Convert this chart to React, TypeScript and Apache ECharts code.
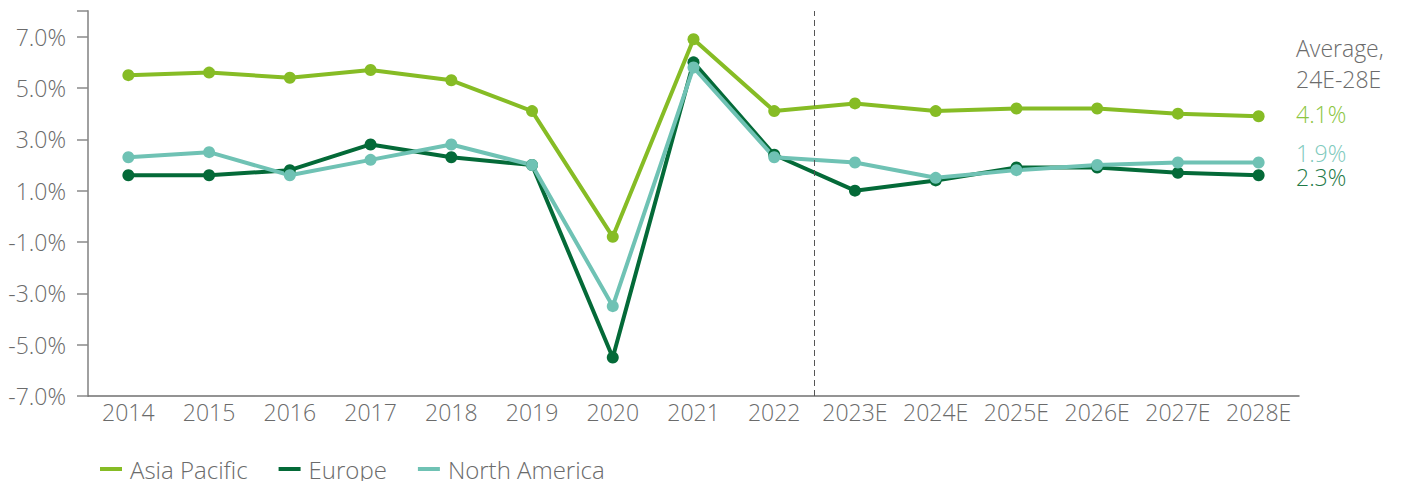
import React, { useEffect, useRef } from "react";
import * as echarts from "echarts";

const categories = ["2014", "2015", "2016", "2017", "2018", "2019", "2020", "2021", "2022", "2023E", "2024E", "2025E", "2026E", "2027E", "2028E"];
const asiaPacific = [5.5, 5.6, 5.4, 5.7, 5.3, 4.1, -0.8, 6.9, 4.1, 4.4, 4.1, 4.2, 4.2, 4.0, 3.9];
const europe = [1.6, 1.6, 1.8, 2.8, 2.3, 2.0, -5.5, 6.0, 2.4, 1.0, 1.4, 1.9, 1.9, 1.7, 1.6];
const northAmerica = [2.3, 2.5, 1.6, 2.2, 2.8, 2.0, -3.5, 5.8, 2.3, 2.1, 1.5, 1.8, 2.0, 2.1, 2.1];
const seriesNames = ["Asia Pacific", "Europe", "North America"];
const colors = ["#86bc25", "#046a38", "#6fc2b4"];
const separatorAt = 8.5; // between 2022 and 2023E
const averageTitle = ["Average,", "24E-28E"];
const averageValues = ["4.1%", "1.9%", "2.3%"];
const averageColors = ["#8cc63f", "#80cabd", "#1f7a48"];

const FONT = "'Open Sans', 'Noto Sans', sans-serif";
const GRAY = "#6b6b6b";
const FS = 23;

export default function App() {
  const ref = useRef<HTMLDivElement>(null);
  useEffect(() => {
    document.body.style.margin = "0";
    if (!ref.current) return;
    const chart = echarts.init(ref.current, null, { renderer: "svg" });
    const textBase = { fontFamily: FONT, fontWeight: 300 as any, fontSize: FS, color: GRAY };
    const mk = (name: string, data: number[], color: string) => ({
      name,
      type: "line",
      data,
      symbol: "circle",
      symbolSize: 12,
      lineStyle: { width: 4, color },
      itemStyle: { color },
      z: 3,
    });
    const font = `300 ${FS}px ${FONT}`;
    chart.setOption({
      animation: false,
      color: colors,
      grid: { left: 88, right: 104, top: 11, bottom: 85, containLabel: false },
      legend: {
        left: 100,
        top: 457,
        padding: 0,
        icon: "rect",
        itemWidth: 22,
        itemHeight: 4,
        itemGap: 31,
        textStyle: { ...textBase, fontSize: 24, lineHeight: 22, padding: [0, 0, 0, 3] },
        data: seriesNames,
      },
      xAxis: [
        {
          type: "category",
          data: categories,
          boundaryGap: true,
          axisLine: { onZero: false, lineStyle: { color: "#707070", width: 1.5 } },
          axisTick: { show: false },
          axisLabel: { ...textBase, margin: 4, interval: 0 },
        },
        {
          type: "value",
          min: -0.5,
          max: 14.5,
          show: false,
          position: "top",
          axisLine: { onZero: false },
        },
      ],
      yAxis: {
        type: "value",
        min: -7,
        max: 8,
        interval: 2,
        splitLine: { show: false },
        axisLine: { show: true, onZero: false, lineStyle: { color: "#a0a0a0", width: 2 } },
        axisTick: { show: true, length: 11, lineStyle: { color: "#8a8a8a", width: 1.5 } },
        axisLabel: {
          ...textBase,
          margin: 22,
          formatter: (v: number) => (v > 7.5 ? "" : v.toFixed(1) + "%"),
        },
      },
      series: [
        mk(seriesNames[0], asiaPacific, colors[0]),
        mk(seriesNames[1], europe, colors[1]),
        mk(seriesNames[2], northAmerica, colors[2]),
        {
          name: "separator",
          type: "line",
          xAxisIndex: 1,
          data: [],
          silent: true,
          markLine: {
            symbol: "none",
            silent: true,
            label: { show: false },
            lineStyle: { type: [6, 4], color: "#555555", width: 1 },
            data: [{ xAxis: separatorAt }],
          },
        },
      ],
      graphic: [
        { type: "text", left: 1296, top: 36, style: { text: averageTitle[0], font, fill: GRAY } },
        { type: "text", left: 1296, top: 67, style: { text: averageTitle[1], font, fill: GRAY } },
        { type: "text", left: 1296, top: 102, style: { text: averageValues[0], font, fill: averageColors[0] } },
        { type: "text", left: 1296, top: 141, style: { text: averageValues[1], font, fill: averageColors[1] } },
        { type: "text", left: 1296, top: 165, style: { text: averageValues[2], font, fill: averageColors[2] } },
      ],
    });
    return () => chart.dispose();
  }, []);
  return <div ref={ref} style={{ width: 1403, height: 481 }} />;
}
